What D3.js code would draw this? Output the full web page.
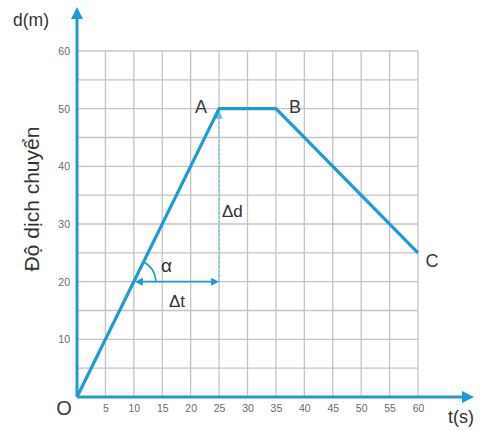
<!DOCTYPE html>
<html><head><meta charset="utf-8">
<script src="https://cdn.jsdelivr.net/npm/d3@7"></script>
<style>body{margin:0;background:#fff}svg{display:block}</style>
</head><body>
<svg id="c" width="482" height="430"></svg>
<script>
const times = [0, 25, 35, 60];
const distances = [0, 50, 50, 25];
const pointLabels = ["O", "A", "B", "C"];
const xTicks = [5,10,15,20,25,30,35,40,45,50,55,60];
const yTicks = [10,20,30,40,50,60];
const gridStep = 5;

const svg = d3.select("#c");
const x = d3.scaleLinear().domain([0,60]).range([77,418]);
const y = d3.scaleLinear().domain([0,60]).range([397,51]);
const blue = "#1f9ad6";
const font = "Liberation Sans, Arial, sans-serif";

// grid
const gridVals = d3.range(gridStep, 60 + 0.001, gridStep);
svg.append("g").selectAll("line.v").data(gridVals).join("line")
  .attr("x1", d=>x(d)).attr("x2", d=>x(d)).attr("y1", y(0)).attr("y2", y(60))
  .attr("stroke", "#c4c4c4").attr("stroke-width", 1.3);
svg.append("g").selectAll("line.h").data(gridVals).join("line")
  .attr("y1", d=>y(d)).attr("y2", d=>y(d)).attr("x1", x(0)).attr("x2", x(60))
  .attr("stroke", "#c4c4c4").attr("stroke-width", 1.3);

// axes with arrows
svg.append("line").attr("x1", x(0)).attr("x2", 466).attr("y1", y(0)).attr("y2", y(0))
  .attr("stroke", blue).attr("stroke-width", 3);
svg.append("path").attr("d", `M474,${y(0)} L462,${y(0)-6} L462,${y(0)+6} Z`).attr("fill", blue);
svg.append("line").attr("x1", x(0)).attr("x2", x(0)).attr("y1", y(0)).attr("y2", 16)
  .attr("stroke", blue).attr("stroke-width", 3);
svg.append("path").attr("d", `M${x(0)},7 L${x(0)-6},19 L${x(0)+6},19 Z`).attr("fill", blue);

// tick labels
const xAxis = d3.axisBottom(x).tickValues(xTicks).tickSize(0).tickPadding(8);
const gx = svg.append("g").attr("transform", `translate(0,${y(0)})`).call(xAxis);
gx.select(".domain").remove();
gx.selectAll("text").attr("font-family", font).attr("font-size", 10.5).attr("fill", "#6a6a6a");
const yAxis = d3.axisLeft(y).tickValues(yTicks).tickSize(0).tickPadding(7);
const gy = svg.append("g").attr("transform", `translate(${x(0)},0)`).call(yAxis);
gy.select(".domain").remove();
gy.selectAll("text").attr("font-family", font).attr("font-size", 10.5).attr("fill", "#6a6a6a");

// helper lines Δd (vertical) and Δt (horizontal)
const tA = times[1], dA = distances[1];
const tLeft = 10, dLevel = 20;
svg.append("line").attr("x1", x(tA)).attr("x2", x(tA)).attr("y1", y(dLevel)).attr("y2", y(dA)+8)
  .attr("stroke", "#58c8d8").attr("stroke-width", 1.2).attr("stroke-dasharray","3,1.5");
svg.append("path").attr("d", `M${x(tA)},${y(dA)+1} L${x(tA)-3.5},${y(dA)+10} L${x(tA)+3.5},${y(dA)+10} Z`).attr("fill", "#58c8d8");
svg.append("line").attr("x1", x(tLeft)+4).attr("x2", x(tA)-4).attr("y1", y(dLevel)).attr("y2", y(dLevel))
  .attr("stroke", blue).attr("stroke-width", 1.8);
svg.append("path").attr("d", `M${x(tLeft)+1},${y(dLevel)} L${x(tLeft)+9},${y(dLevel)-4} L${x(tLeft)+9},${y(dLevel)+4} Z`).attr("fill", blue);
svg.append("path").attr("d", `M${x(tA)},${y(dLevel)} L${x(tA)-8},${y(dLevel)-4} L${x(tA)-8},${y(dLevel)+4} Z`).attr("fill", blue);

// angle arc α
const cx0 = x(tLeft), cy0 = y(dLevel);
const ang = Math.atan2(y(0)-y(dA), x(tA)-x(0));
const r = 22;
svg.append("path").attr("d", `M${cx0+r},${cy0} A${r},${r} 0 0 0 ${cx0 + r*Math.cos(ang)},${cy0 - r*Math.sin(ang)}`)
  .attr("fill", "none").attr("stroke", blue).attr("stroke-width", 1.6);

// main line
const line = d3.line().x((d,i)=>x(times[i])).y((d,i)=>y(distances[i]));
svg.append("path").datum(times).attr("d", line).attr("fill", "none")
  .attr("stroke", blue).attr("stroke-width", 3.2).attr("stroke-linejoin", "miter");

// point labels
const lblOff = [[-13, 13], [-18, 0], [19, 0], [14, 9]];
const lblSize = [20, 18, 18, 18];
svg.append("g").selectAll("text").data(pointLabels).join("text")
  .attr("x", (d,i)=>x(times[i]) + lblOff[i][0]).attr("y", (d,i)=>y(distances[i]) + lblOff[i][1])
  .attr("text-anchor", "middle").attr("dominant-baseline", "middle")
  .attr("font-family", font).attr("font-size", (d,i)=>lblSize[i]).attr("fill", "#3a3a3a").text(d=>d);

// annotations
svg.append("text").attr("x", 222).attr("y", 217).attr("font-family", font).attr("font-size", 17).attr("fill", "#333").text("Δd");
svg.append("text").attr("x", 169).attr("y", 307).attr("font-family", font).attr("font-size", 17).attr("fill", "#333").text("Δt");
svg.append("text").attr("x", 161).attr("y", 272).attr("font-family", font).attr("font-size", 19).attr("fill", "#333").text("α");

// axis titles
svg.append("text").attr("x", 13).attr("y", 26).attr("font-family", font).attr("font-size", 17.5).attr("fill", "#333").text("d(m)");
svg.append("text").attr("x", 448).attr("y", 423).attr("font-family", font).attr("font-size", 18).attr("fill", "#333").text("t(s)");
svg.append("text").attr("transform", "translate(39,199) rotate(-90)").attr("text-anchor", "middle")
  .attr("font-family", font).attr("font-size", 21).attr("fill", "#333").text("Độ dịch chuyển");
</script>
</body></html>
